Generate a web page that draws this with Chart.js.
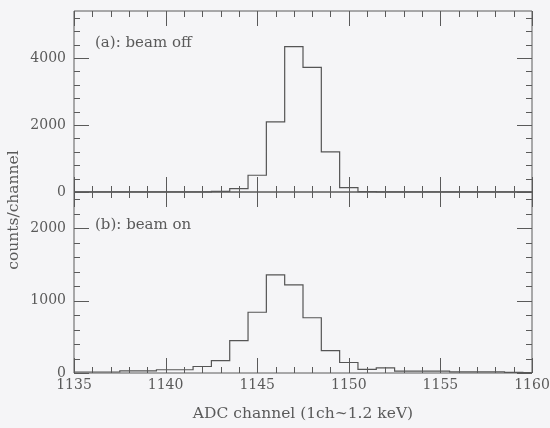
<!DOCTYPE html>
<html>
<head>
<meta charset="utf-8">
<script src="https://cdn.jsdelivr.net/npm/chart.js@4/dist/chart.umd.min.js"></script>
<style>
  html, body { margin: 0; padding: 0; background: #f5f5f7; }
  #wrap { width: 550px; height: 428px; }
</style>
</head>
<body>
<div id="wrap"><canvas id="c" width="550" height="428"></canvas></div>
<script>
// ADC channels (bin centres, 1 channel wide)
const channels = [1135, 1136, 1137, 1138, 1139, 1140, 1141, 1142, 1143, 1144, 1145, 1146, 1147,
                  1148, 1149, 1150, 1151, 1152, 1153, 1154, 1155, 1156, 1157, 1158, 1159, 1160];
// (a) beam off
const beamOffCounts = [5, 5, 5, 5, 5, 5, 5, 5, 20, 100, 500, 2090, 4340,
                       3720, 1200, 130, 10, 5, 5, 5, 5, 5, 5, 5, 5, 5];
// (b) beam on
const beamOnCounts = [14, 14, 14, 28, 28, 45, 45, 90, 172, 448, 839, 1354, 1217,
                      763, 308, 145, 50, 70, 25, 25, 25, 15, 15, 15, 8, 5];

const xMajorTicks = [1135, 1140, 1145, 1150, 1155, 1160];
const topPanelTicks = [0, 2000, 4000];
const bottomPanelTicks = [0, 1000, 2000];
const topPanelMax = 5400;
const bottomPanelMax = 2500;

const panelLabels = ['(a): beam off', '(b): beam on'];
const xTitle = 'ADC channel (1ch~1.2 keV)';
const yTitle = 'counts/channel';

const INK = '#5a5a5a';
const FONT = '"DejaVu Serif", "Liberation Serif", serif';

function toPoints(vals) {
  return channels.map((ch, i) => ({ x: ch, y: vals[i] }));
}

// Frames, inward ticks (major + minor) and all text for the two stacked panels
const panelAxes = {
  id: 'panelAxes',
  afterDatasetsDraw(chart) {
    const ctx = chart.ctx;
    const x = chart.scales.x;
    const panels = [
      { scale: chart.scales.yTop, max: topPanelMax, major: topPanelTicks, minorStep: 400, label: panelLabels[0] },
      { scale: chart.scales.yBot, max: bottomPanelMax, major: bottomPanelTicks, minorStep: 200, label: panelLabels[1] }
    ];
    const L = x.getPixelForValue(1135), R = x.getPixelForValue(1160);
    const MAJ = 15, MIN = 6;
    ctx.save();
    ctx.strokeStyle = INK;
    ctx.lineWidth = 1;
    ctx.fillStyle = INK;

    panels.forEach((p, idx) => {
      const top = p.scale.getPixelForValue(p.max);
      const bot = p.scale.getPixelForValue(0);
      ctx.beginPath();
      ctx.rect(L, top, R - L, bot - top);
      // x ticks on top and bottom edges
      for (let v = 1135; v <= 1160; v++) {
        const px = Math.round(x.getPixelForValue(v)) + 0.5;
        const len = (v % 5 === 0) ? MAJ : MIN;
        ctx.moveTo(px, top); ctx.lineTo(px, top + len);
        ctx.moveTo(px, bot); ctx.lineTo(px, bot - len);
      }
      // y ticks on left and right edges
      for (let v = 0; v <= p.max; v += p.minorStep) {
        const py = Math.round(p.scale.getPixelForValue(v)) + 0.5;
        const len = p.major.includes(v) ? MAJ : MIN;
        ctx.moveTo(L, py); ctx.lineTo(L + len, py);
        ctx.moveTo(R, py); ctx.lineTo(R - len, py);
      }
      ctx.stroke();

      // y tick labels
      ctx.font = '14px ' + FONT;
      ctx.textAlign = 'right';
      ctx.textBaseline = 'middle';
      p.major.forEach(v => {
        ctx.fillText(String(v), L - 8, p.scale.getPixelForValue(v));
      });

      // panel caption
      ctx.font = '15px ' + FONT;
      ctx.textAlign = 'left';
      ctx.fillText(p.label, L + 21, top + (idx === 0 ? 32 : 33));
    });

    // x tick labels
    const bottom = chart.scales.yBot.getPixelForValue(0);
    ctx.font = '14px ' + FONT;
    ctx.textAlign = 'center';
    ctx.textBaseline = 'top';
    xMajorTicks.forEach(v => ctx.fillText(String(v), x.getPixelForValue(v), bottom + 5));

    // axis titles
    ctx.font = '15.5px ' + FONT;
    ctx.textBaseline = 'middle';
    ctx.fillText(xTitle, (L + R) / 2, bottom + 41);
    ctx.translate(14, 210);
    ctx.rotate(-Math.PI / 2);
    ctx.fillText(yTitle, 0, 0);
    ctx.restore();
  }
};

new Chart(document.getElementById('c'), {
  type: 'line',
  data: {
    datasets: [
      { label: 'beam off', data: toPoints(beamOffCounts), yAxisID: 'yTop',
        stepped: 'middle', borderColor: '#555', borderWidth: 1.2, pointRadius: 0, fill: false },
      { label: 'beam on', data: toPoints(beamOnCounts), yAxisID: 'yBot',
        stepped: 'middle', borderColor: '#555', borderWidth: 1.2, pointRadius: 0, fill: false }
    ]
  },
  options: {
    responsive: false,
    animation: false,
    layout: { padding: { left: 74, right: 18, top: 11, bottom: 55 } },
    plugins: { legend: { display: false }, tooltip: { enabled: false } },
    scales: {
      x: { type: 'linear', min: 1135, max: 1160, display: false },
      // upper panel occupies the top half: its zero sits at mid-height
      yTop: { type: 'linear', position: 'left', min: -topPanelMax, max: topPanelMax, display: false },
      // lower panel occupies the bottom half
      yBot: { type: 'linear', position: 'left', min: 0, max: 2 * bottomPanelMax, display: false }
    }
  },
  plugins: [panelAxes]
});
</script>
</body>
</html>
